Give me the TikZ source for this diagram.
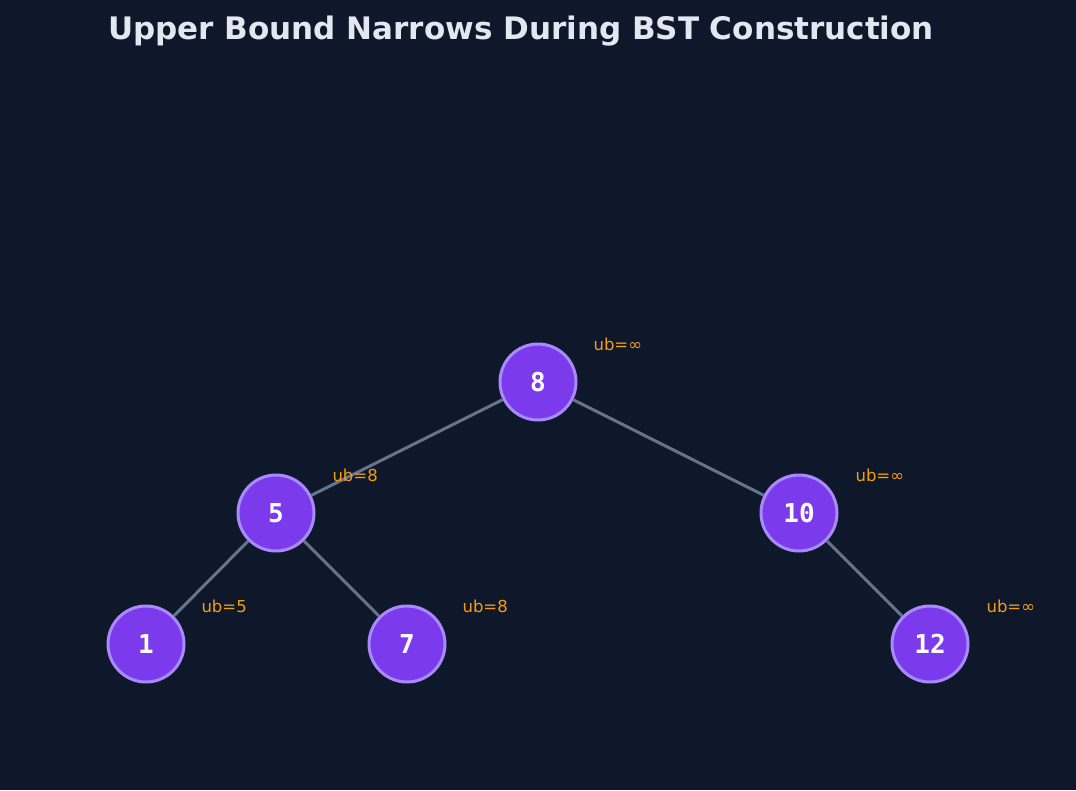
\documentclass[tikz,border=0pt]{standalone}
\usepackage{fontspec}
\setmainfont{DejaVu Sans}
\setmonofont{DejaVu Sans Mono}
\definecolor{bg}{HTML}{0F172A}
\definecolor{nfill}{HTML}{7C3AED}
\definecolor{nedge}{HTML}{A78BFA}
\definecolor{edgec}{HTML}{64748B}
\definecolor{lab}{HTML}{F59E0B}
\definecolor{ttl}{HTML}{E2E8F0}
\begin{document}
\begin{tikzpicture}[x=1pt,y=-1pt,
  bst/.style={circle,draw=nedge,fill=nfill,line width=3pt,minimum size=76pt,inner sep=0pt,text=white,font=\ttfamily\bfseries\fontsize{26}{26}\selectfont},
  ed/.style={draw=edgec,line width=3pt},
  ub/.style={text=lab,font=\fontsize{16.5}{17}\selectfont}]
\fill[bg] (0,0) rectangle (1076,790);
\useasboundingbox (0,0) rectangle (1076,790);
\node[text=ttl,font=\bfseries\fontsize{31}{32}\selectfont] (title) at (521,31) {Upper Bound Narrows During BST Construction};
\node[bst] (n8) at (538,382) {8};
\node[bst] (n5) at (276,513) {5};
\node[bst] (n10) at (799,513) {10};
\node[bst] (n1) at (146,644) {1};
\node[bst] (n7) at (407,644) {7};
\node[bst] (n12) at (930,644) {12};
\draw[ed] (n8) -- (n5);
\draw[ed] (n8) -- (n10);
\draw[ed] (n5) -- (n1);
\draw[ed] (n5) -- (n7);
\draw[ed] (n10) -- (n12);
\node[ub,anchor=west] (u8) at (590,344) {ub=∞};
\node[ub,anchor=west] (u5) at (329,475) {ub=8};
\node[ub,anchor=west] (u10) at (852,475) {ub=∞};
\node[ub,anchor=west] (u1) at (198,606) {ub=5};
\node[ub,anchor=west] (u7) at (459,606) {ub=8};
\node[ub,anchor=west] (u12) at (983,606) {ub=∞};
\end{tikzpicture}
\end{document}
